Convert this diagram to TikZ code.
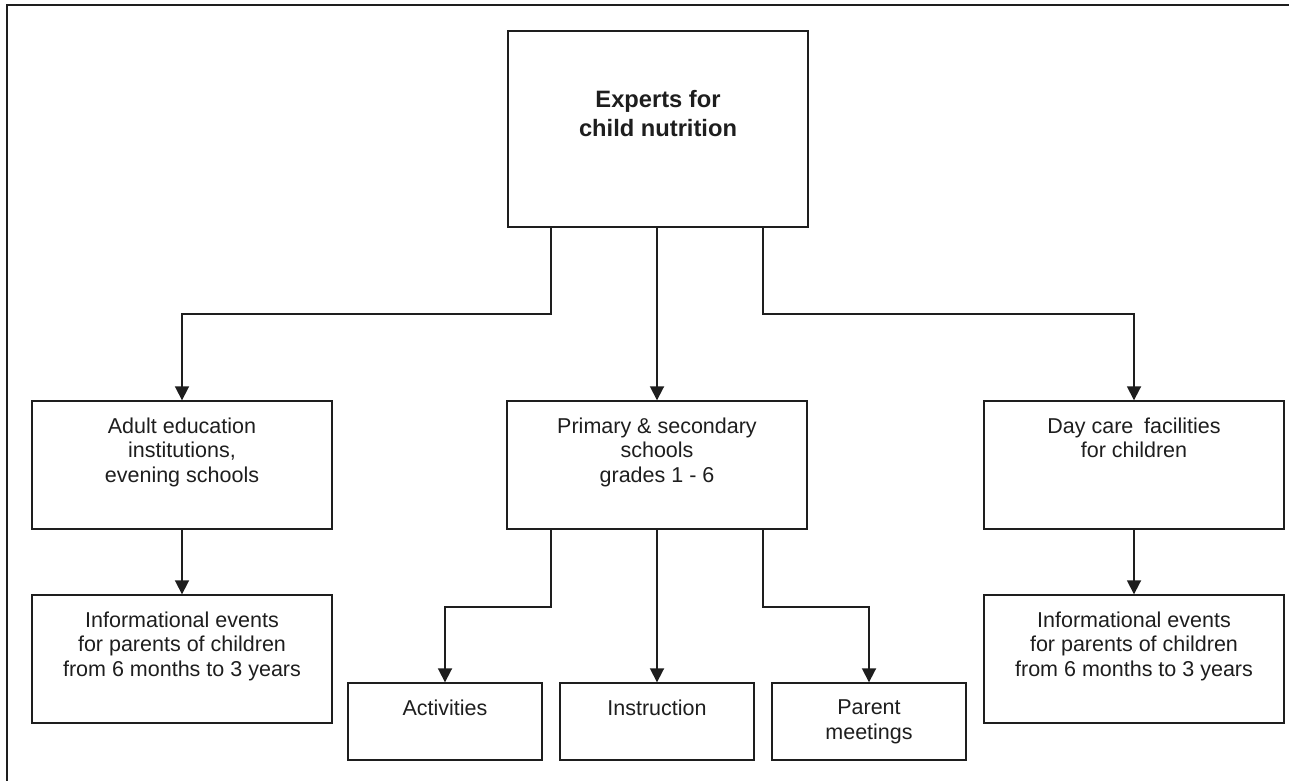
\documentclass[tikz,border=0pt]{standalone}
\usepackage{fontspec}
\setmainfont{Liberation Sans}
\usetikzlibrary{arrows.meta}
\definecolor{ink}{HTML}{1E1E1E}
\begin{document}
\begin{tikzpicture}[x=1pt,y=-1pt,
  box/.style={draw=ink, line width=1.4pt, rectangle, inner sep=0pt},
  txt/.style={text=ink, align=center, inner sep=0pt, anchor=north,
    font=\fontsize{21.5}{24.5}\selectfont},
  title/.style={text=ink, align=center, inner sep=0pt, anchor=north,
    font=\bfseries\fontsize{23.7}{29}\selectfont},
  conn/.style={draw=ink, line width=1.8pt},
  arr/.style={conn, -{Triangle[length=14pt,width=14pt]}},
  frameline/.style={draw=ink, line width=2.2pt}]
\useasboundingbox (0,0) rectangle (1289,780);
\fill[white] (0,0) rectangle (1289,780);
\coordinate (fA) at (7,781);
\coordinate (fB) at (7,5);
\coordinate (fC) at (1290,5);
\draw[frameline] (fA) -- (fB) -- (fC);

% boxes
\node[box, minimum width=300pt, minimum height=196pt] (top) at (658,129) {};
\node[box, minimum width=300pt, minimum height=128pt] (adult) at (182,465) {};
\node[box, minimum width=300pt, minimum height=128pt] (prim) at (657,465) {};
\node[box, minimum width=300pt, minimum height=128pt] (day) at (1134,465) {};
\node[box, minimum width=300pt, minimum height=128pt] (infoL) at (182,659) {};
\node[box, minimum width=300pt, minimum height=128pt] (infoR) at (1134,659) {};
\node[box, minimum width=194pt, minimum height=77pt] (act) at (445,721.5) {};
\node[box, minimum width=194pt, minimum height=77pt] (ins) at (657,721.5) {};
\node[box, minimum width=194pt, minimum height=77pt] (par) at (869,721.5) {};

% texts
\node[title] (topT) at ([yshift=-60pt]top.north) {Experts for\\child nutrition};
\node[txt] (adultT) at ([yshift=-17.4pt]adult.north) {Adult education\\institutions,\\evening schools};
\node[txt] (primT) at ([yshift=-17.4pt]prim.north) {Primary \& secondary\\schools\\grades 1 - 6};
\node[txt] (dayT) at ([yshift=-17.4pt]day.north) {Day care\hspace{0.5em}facilities\\for children};
\node[txt] (infoLT) at ([yshift=-17.4pt]infoL.north) {Informational events\\for parents of children\\from 6 months to 3 years};
\node[txt] (infoRT) at ([yshift=-17.4pt]infoR.north) {Informational events\\for parents of children\\from 6 months to 3 years};
\node[txt] (actT) at ([yshift=-17.4pt]act.north) {Activities};
\node[txt] (insT) at ([yshift=-17.4pt]ins.north) {Instruction};
\node[txt] (parT) at ([yshift=-17.4pt]par.north) {Parent\\meetings};

% connectors
\draw[arr] ([xshift=-107pt]top.south) -- ++(0,86) -| (adult.north);
\draw[arr] ([xshift=-1pt]top.south) -- (prim.north);
\draw[arr] ([xshift=105pt]top.south) -- ++(0,86) -| (day.north);
\draw[arr] (adult.south) -- (infoL.north);
\draw[arr] (day.south) -- (infoR.north);
\draw[arr] ([xshift=-106pt]prim.south) -- ++(0,77) -| (act.north);
\draw[arr] (prim.south) -- (ins.north);
\draw[arr] ([xshift=106pt]prim.south) -- ++(0,77) -| (par.north);
\end{tikzpicture}
\end{document}
